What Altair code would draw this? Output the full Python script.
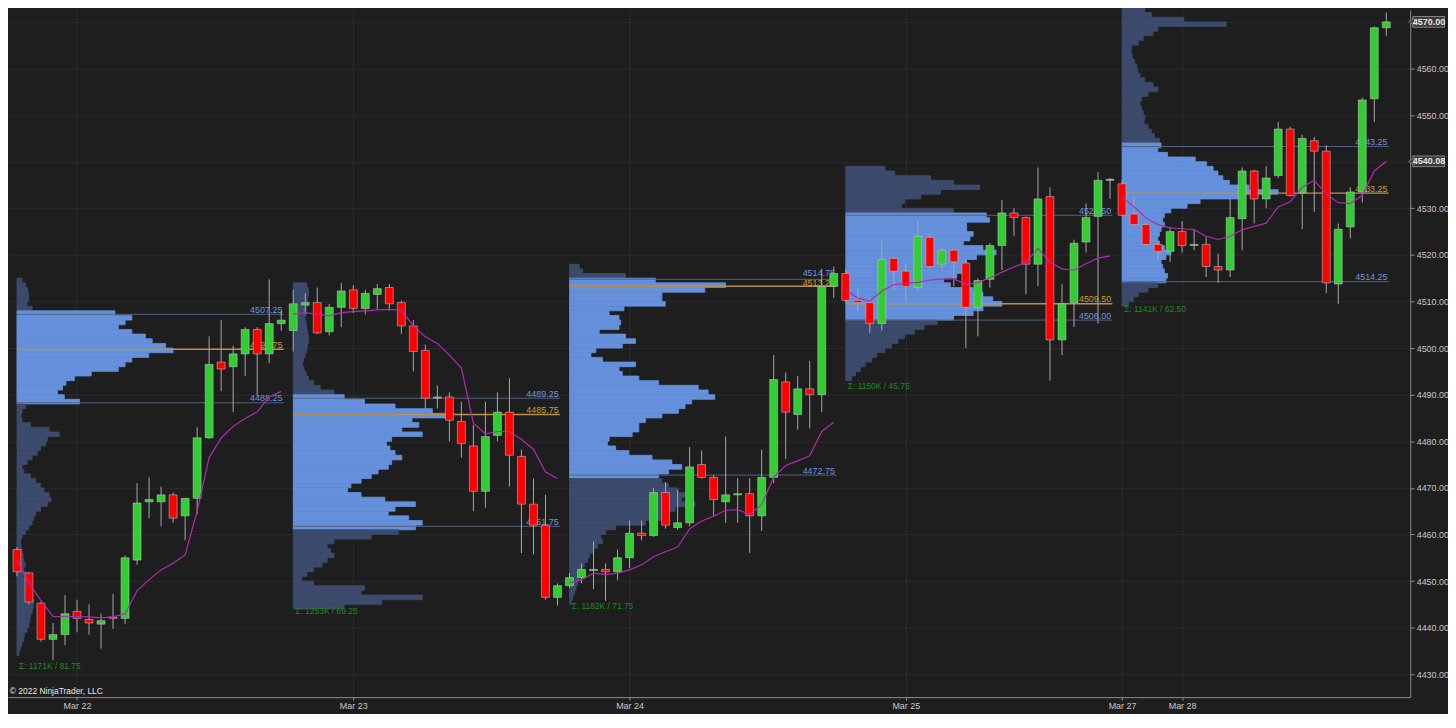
import altair as alt
import pandas as pd

# ---------------- data ----------------
opens = [4456.75, 4451.75, 4445.25, 4437.5, 4438.5, 4443.5, 4441.75, 4440.75, 4442.25, 4442.0,
         4454.5, 4467.0, 4467.0, 4468.5, 4464.0, 4467.75, 4480.75, 4497.0, 4496.0, 4498.75,
         4504.0, 4498.75, 4505.25,
         4503.75, 4509.25, 4509.75, 4503.5, 4508.75, 4512.5, 4508.5, 4511.5, 4513.0, 4509.75,
         4504.75, 4499.5, 4489.25, 4489.5, 4484.25, 4479.0, 4469.25, 4481.25, 4486.25, 4476.75,
         4466.5, 4462.0, 4446.5,
         4449.0, 4450.75, 4452.25, 4452.5, 4452.0, 4455.0, 4460.25, 4459.75, 4469.0, 4461.5,
         4462.5, 4475.0, 4472.25, 4467.0, 4468.5, 4468.75, 4464.0, 4472.25, 4492.75, 4485.75,
         4491.25, 4490.0, 4513.25,
         4516.0, 4510.25, 4509.75, 4505.25, 4519.25, 4516.5, 4513.0, 4523.75, 4518.0, 4521.0,
         4518.25, 4508.75, 4514.75, 4522.0, 4529.0, 4528.0, 4518.0, 4532.5, 4501.75, 4509.75,
         4522.75, 4528.25, 4536.0,
         4535.25, 4528.75, 4526.5, 4522.25, 4520.75, 4525.0, 4522.0, 4522.25, 4517.5, 4516.75,
         4527.75, 4538.0, 4532.0, 4537.0, 4547.0, 4533.25, 4544.5, 4542.25, 4513.75, 4526.0,
         4533.5, 4553.5, 4568.75]
highs = [4457.25, 4452.0, 4445.5, 4441.0, 4447.0, 4446.0, 4445.0, 4443.0, 4447.25, 4455.5,
         4471.0, 4472.25, 4470.25, 4469.0, 4467.75, 4483.0, 4502.5, 4506.0, 4500.5, 4504.5,
         4504.5, 4514.75, 4508.0,
         4512.5, 4511.75, 4513.0, 4509.5, 4514.0, 4513.5, 4512.5, 4513.75, 4513.75, 4510.25,
         4506.0, 4500.75, 4492.0, 4490.5, 4488.5, 4483.5, 4488.5, 4490.5, 4493.5, 4478.25,
         4472.0, 4468.5, 4449.5,
         4451.75, 4453.75, 4458.5, 4453.75, 4456.75, 4463.0, 4463.0, 4470.0, 4471.25, 4469.5,
         4478.75, 4478.0, 4472.75, 4481.0, 4472.0, 4472.0, 4478.25, 4498.5, 4494.75, 4494.0,
         4497.25, 4517.0, 4517.5,
         4517.0, 4512.75, 4510.5, 4523.0, 4519.5, 4518.0, 4527.25, 4524.5, 4521.5, 4521.0,
         4519.0, 4515.0, 4522.5, 4531.75, 4530.0, 4528.25, 4538.75, 4534.5, 4513.75, 4523.25,
         4531.0, 4537.75, 4536.5,
         4536.0, 4532.5, 4527.0, 4522.75, 4526.0, 4527.25, 4525.5, 4523.75, 4520.25, 4532.0,
         4538.75, 4538.25, 4539.0, 4548.5, 4547.5, 4545.75, 4545.25, 4543.5, 4526.75, 4534.5,
         4553.75, 4569.0, 4572.0]
lows = [4451.0, 4445.0, 4437.0, 4433.0, 4436.25, 4439.0, 4438.5, 4435.5, 4439.75, 4440.75,
        4453.5, 4463.5, 4461.75, 4462.5, 4458.75, 4464.25, 4480.5, 4490.75, 4486.25, 4494.0,
        4489.75, 4496.75, 4503.75,
        4499.25, 4507.25, 4503.0, 4502.75, 4504.5, 4507.5, 4507.25, 4508.25, 4508.0, 4503.0,
        4495.0, 4487.0, 4487.0, 4480.0, 4476.5, 4465.0, 4465.75, 4480.0, 4470.25, 4456.0,
        4455.75, 4446.0, 4444.75,
        4448.5, 4449.5, 4448.25, 4445.75, 4450.25, 4452.75, 4458.75, 4459.5, 4461.25, 4461.0,
        4461.75, 4472.0, 4464.0, 4462.5, 4462.5, 4456.0, 4460.75, 4471.0, 4476.25, 4482.5,
        4482.75, 4486.25, 4510.75,
        4509.75, 4508.0, 4503.25, 4503.75, 4512.5, 4510.0, 4512.25, 4517.0, 4517.0, 4513.25,
        4500.0, 4502.5, 4513.0, 4516.75, 4524.0, 4511.5, 4513.25, 4493.0, 4498.5, 4504.5,
        4520.5, 4505.25, 4532.0,
        4528.25, 4526.25, 4522.0, 4519.0, 4518.5, 4520.5, 4521.0, 4515.25, 4514.0, 4515.25,
        4521.0, 4526.75, 4530.0, 4536.5, 4532.5, 4525.5, 4529.25, 4511.75, 4509.5, 4523.5,
        4531.25, 4548.5, 4567.0]
closes = [4452.0, 4445.5, 4437.5, 4438.5, 4443.0, 4442.0, 4441.0, 4441.5, 4442.0, 4455.0,
          4466.75, 4467.5, 4468.5, 4463.5, 4467.75, 4480.75, 4496.5, 4495.5, 4498.75, 4504.0,
          4498.75, 4505.25, 4506.0,
          4509.5, 4509.75, 4503.25, 4508.75, 4512.25, 4508.5, 4511.75, 4512.75, 4509.5, 4504.75,
          4499.25, 4489.25, 4489.5, 4484.5, 4479.5, 4469.25, 4481.0, 4486.25, 4477.0, 4466.5,
          4462.0, 4446.5, 4449.0,
          4450.75, 4452.5, 4452.5, 4452.0, 4455.0, 4460.25, 4459.75, 4469.0, 4462.0, 4462.5,
          4474.5, 4472.25, 4467.5, 4468.5, 4468.75, 4464.0, 4472.25, 4493.25, 4486.25, 4491.25,
          4490.0, 4513.25, 4516.0,
          4510.25, 4509.75, 4505.25, 4519.0, 4516.5, 4513.25, 4524.0, 4517.5, 4521.0, 4518.5,
          4508.75, 4514.5, 4522.0, 4529.0, 4528.0, 4518.0, 4532.0, 4501.75, 4509.5, 4522.5,
          4528.0, 4536.0, 4536.0,
          4528.5, 4526.5, 4522.25, 4520.75, 4525.0, 4522.0, 4522.25, 4517.5, 4516.75, 4528.0,
          4538.0, 4532.0, 4536.5, 4547.0, 4532.75, 4545.0, 4542.25, 4514.0, 4525.5, 4533.5,
          4553.25, 4568.75, 4570.0]
vwap = [4454.5, 4449.6, 4445.8, 4442.4, 4442.4, 4442.4, 4442.3, 4442.1, 4442.3, 4443.0,
        4447.9, 4450.3, 4452.4, 4453.8, 4455.6, 4465.0, 4476.5, 4480.7, 4483.2, 4484.9,
        4486.3, 4489.5, 4490.7,
        4507.3, 4507.6, 4507.3, 4506.9, 4507.6, 4507.8, 4508.0, 4508.2, 4508.3, 4508.1,
        4504.8, 4502.4, 4501.0, 4498.5, 4495.7, 4483.9, 4481.6, 4482.1, 4482.1, 4480.4,
        4478.3, 4473.4, 4472.0,
        4449.6, 4450.3, 4451.7, 4451.4, 4451.7, 4452.4, 4453.5, 4455.2, 4456.3, 4457.3,
        4461.2, 4462.9, 4463.9, 4465.2, 4465.3, 4464.3, 4466.4, 4472.3, 4474.8, 4475.8,
        4476.9, 4482.1, 4484.1,
        4512.5, 4510.7, 4510.1, 4512.2, 4513.6, 4513.9, 4514.1, 4514.6, 4514.8, 4514.9,
        4513.6, 4514.1, 4515.1, 4516.3, 4517.4, 4518.4, 4521.4, 4518.4, 4517.0, 4516.7,
        4518.1, 4519.3, 4519.8,
        4532.4, 4530.3, 4527.9, 4526.5, 4525.8, 4525.6, 4525.4, 4524.0, 4523.3, 4524.0,
        4525.4, 4526.1, 4526.8, 4530.3, 4531.4, 4534.5, 4536.0, 4533.1, 4531.2, 4531.0,
        4532.8, 4538.0, 4540.08]

session_starts = [0, 23, 46, 69, 92]
session_len = 23
poc = [4499.75, 4485.75, 4513.25, 4509.50, 4533.25]
vah = [4507.25, 4489.25, 4514.75, 4528.50, 4543.25]
val = [4488.25, 4461.75, 4472.75, 4506.00, 4514.25]
sigma_volume = ["1171K", "1253K", "1182K", "1150K", "1141K"]
sigma_range = ["81.75", "69.25", "71.75", "45.75", "62.50"]

# volume profile per session: volume per 1-point price bin, from the top bin down
profile_tops = [4514, 4513, 4517, 4538, 4572]
profile_d1 = [15, 25, 32, 35, 35, 30, 45, 290, 340, 320,
              300, 340, 380, 400, 440, 462, 390, 340, 320, 300,
              220, 170, 145, 135, 120, 140, 185, 25, 15, 12,
              15, 40, 95, 125, 90, 85, 70, 60, 45, 30,
              15, 20, 40, 55, 70, 80, 95, 100, 90, 70,
              55, 50, 45, 35, 25, 15, 10, 12, 15, 18,
              20, 25, 20, 28, 30, 35, 30, 38, 42, 50,
              48, 45, 40, 38, 35, 30, 22, 20, 15, 10, 6]
profile_d2 = [40, 45, 45, 42, 45, 40, 38, 35, 38, 40,
              42, 45, 45, 42, 40, 35, 30, 28, 32, 38,
              45, 60, 80, 120, 150, 210, 300, 410, 460, 350,
              370, 320, 380, 290, 275, 285, 300, 320, 290, 280,
              250, 230, 200, 170, 160, 200, 270, 360, 300, 280,
              340, 380, 360, 310, 230, 120, 100, 110, 120, 100,
              85, 60, 40, 25, 60, 210, 200, 380, 260, 150]
profile_d3 = [30, 40, 170, 260, 473, 410, 280, 280, 290, 165,
              120, 150, 155, 150, 90, 170, 200, 160, 80, 65,
              100, 200, 150, 160, 210, 270, 390, 420, 440, 370,
              350, 330, 280, 230, 210, 210, 190, 120, 115, 140,
              180, 250, 310, 340, 300, 270, 280, 300, 330, 350,
              340, 380, 320, 300, 290, 230, 140, 110, 95, 100,
              85, 70, 60, 55, 45, 40, 35, 30, 25, 20,
              15, 10, 5]
profile_d4 = [120, 150, 260, 330, 410, 290, 230, 180, 170, 330,
              430, 440, 370, 370, 390, 380, 360, 420, 460, 400,
              370, 360, 370, 340, 300, 320, 390, 420, 450, 478,
              420, 390, 330, 280, 240, 210, 180, 160, 140, 120,
              95, 80, 60, 45, 30, 18]
profile_d5 = [70, 90, 190, 320, 110, 95, 65, 50, 30, 28,
              32, 38, 45, 48, 55, 70, 95, 110, 80, 60,
              55, 60, 65, 70, 68, 80, 90, 100, 115, 120,
              110, 140, 225, 260, 280, 295, 310, 330, 390, 480,
              370, 240, 200, 150, 130, 125, 130, 120, 115, 110,
              115, 130, 150, 135, 120, 125, 130, 140, 135, 110,
              80, 50, 35, 20]
profiles = [profile_d1, profile_d2, profile_d3, profile_d4, profile_d5]

date_labels = ["Mar 22", "Mar 23", "Mar 24", "Mar 25", "Mar 27", "Mar 28"]
date_pos = [5, 28, 51, 74, 92, 97]
price_ticks = list(range(4430, 4571, 10))
badge_prices = [4570.00, 4540.08]

# ---------------- tables ----------------
UP, DOWN, FLAT = "#32cd32", "#ff0000", "#d8d8d8"
candle_rows = []
for i, (o, h, l, c) in enumerate(zip(opens, highs, lows, closes)):
    fill = UP if c > o else (DOWN if c < o else FLAT)
    lo, hi = min(o, c), max(o, c)
    if hi - lo < 0.2:
        hi = lo + 0.2
    candle_rows.append(dict(i=i, xl=i - 0.33, xr=i + 0.33, low=l, high=h,
                            blo=lo, bhi=hi, fill=fill, session=i // session_len))
candles = pd.DataFrame(candle_rows)

vw = pd.DataFrame({"i": list(range(len(vwap))), "vwap": vwap,
                   "session": [k // session_len for k in range(len(vwap))]})

POC_WIDTH = 13.0  # profile width of the POC bin, in bar units
prof_rows = []
for s, (top, vols) in enumerate(zip(profile_tops, profiles)):
    start = session_starts[s]
    m = max(vols)
    for k, v in enumerate(vols):
        p = top - k
        inside = (p < vah[s]) and (p + 1 > val[s])
        prof_rows.append(dict(x0=start, x1=start + v / m * POC_WIDTH, plo=p, phi=p + 1,
                              fill="#6590db" if inside else "#3c4b6b"))
prof = pd.DataFrame(prof_rows)

lvl_rows = []
for s in range(5):
    start = session_starts[s]
    close_pair = (vah[s] - poc[s]) < 2.5   # labels that would collide get nudged apart
    for kind, price, nudge in (("va", vah[s], 0.45 if close_pair else 0.0),
                               ("va", val[s], 0.0),
                               ("poc", poc[s], -0.3 if close_pair else 0.0)):
        lvl_rows.append(dict(x0=start, x1=start + session_len - 0.8, xlab=start + session_len - 0.9,
                             price=price, ylab=price + nudge, kind=kind, label=f"{price:.2f}",
                             color="#d39b2a" if kind == "poc" else "#7094dc"))
lvl = pd.DataFrame(lvl_rows)

sig = pd.DataFrame([dict(x=session_starts[s], y=min(lows[session_starts[s]:session_starts[s] + session_len]),
                         text=f"Σ: {sigma_volume[s]} / {sigma_range[s]}") for s in range(5)])

badges = pd.DataFrame({"price": badge_prices, "lo": [p - 1.15 for p in badge_prices],
                       "hi": [p + 1.15 for p in badge_prices],
                       "label": [f"{p:.2f}" for p in badge_prices],
                       "xa": [116.2] * 2, "xb": [118.85] * 2, "xt": [117.55] * 2, "xp": [116.1] * 2})

copy_df = pd.DataFrame({"x": [-0.6], "y": [4426.3], "text": ["© 2022 NinjaTrader, LLC"]})

# ---------------- scales / axes ----------------
FONT = "Liberation Sans"
xs = alt.Scale(domain=[-0.745, 115.99], nice=False, zero=False)
ys = alt.Scale(domain=[4425.09, 4572.56], nice=False, zero=False)
label_map = ", ".join(f"'{p}': '{l}'" for p, l in zip(date_pos, date_labels))
xaxis = alt.Axis(values=date_pos, labelExpr="{" + label_map + "}[datum.value]", title=None,
                 grid=True, gridColor="#2b2b2b", domainColor="#8c8c8c", tickColor="#8c8c8c",
                 tickSize=3, labelColor="#c8c8c8", labelFontSize=9, labelPadding=1,
                 labelFont=FONT, labelOverlap=False, labelFlush=False)
# the price badges replace the axis labels at their levels
hidden = " || ".join(f"datum.value == {round(p)}" for p in badge_prices)
yaxis = alt.Axis(orient="right", values=price_ticks, format=".2f", title=None, grid=True,
                 labelExpr=f"({hidden}) ? '' : format(datum.value, '.2f')",
                 gridColor="#2b2b2b", domainColor="#8c8c8c", tickColor="#8c8c8c", tickSize=4,
                 labelColor="#c8c8c8", labelFontSize=9, labelPadding=2, labelFont=FONT,
                 labelOverlap=False, labelFlush=False)


def X(f):
    return alt.X(f, type="quantitative", scale=xs, axis=xaxis)


def Y(f):
    return alt.Y(f, type="quantitative", scale=ys, axis=yaxis)


profile_layer = alt.Chart(prof).mark_rect(strokeWidth=0.8).encode(
    x=X("x0"), x2="x1", y=Y("plo"), y2="phi",
    color=alt.Color("fill:N", scale=None), stroke=alt.Stroke("fill:N", scale=None))

va_lines = alt.Chart(lvl[lvl.kind == "va"]).mark_rule(color="#55657f", strokeWidth=1).encode(
    x=X("x0"), x2="x1", y=Y("price"))
poc_lines = alt.Chart(lvl[lvl.kind == "poc"]).mark_rule(color="#b8904f", strokeWidth=1.5).encode(
    x=X("x0"), x2="x1", y=Y("price"))
lvl_text = alt.Chart(lvl).mark_text(align="right", baseline="alphabetic", dy=-1.5,
                                    fontSize=9, font=FONT).encode(
    x=X("xlab"), y=Y("ylab"), text="label:N", color=alt.Color("color:N", scale=None))
sig_text = alt.Chart(sig).mark_text(align="left", baseline="top", dx=2, dy=1.5,
                                    fontSize=8.5, font=FONT, color="#1d8a1d").encode(
    x=X("x"), y=Y("y"), text="text:N")

wicks = alt.Chart(candles).mark_rule(color="#a8a8a8", strokeWidth=1).encode(
    x=X("i"), y=Y("low"), y2="high")
bodies = alt.Chart(candles).mark_rect(stroke="#c4c4c4", strokeWidth=0.7, strokeOpacity=0.8).encode(
    x=X("xl"), x2="xr", y=Y("blo"), y2="bhi", color=alt.Color("fill:N", scale=None))
vwap_line = alt.Chart(vw).mark_line(color="#b02cb0", strokeWidth=1.2).encode(
    x=X("i"), y=Y("vwap"), detail="session:N")

copy_text = alt.Chart(copy_df).mark_text(align="left", baseline="middle", fontSize=8.5,
                                         font=FONT, color="#e6e6e6").encode(
    x=X("x"), y=Y("y"), text="text:N")

badge_rect = alt.Chart(badges).mark_rect(fill="#3a3a3a", stroke="#9a9a9a", strokeWidth=0.8).encode(
    x=X("xa"), x2="xb", y=Y("lo"), y2="hi")
badge_tip = alt.Chart(badges).mark_point(shape="triangle-left", filled=True, size=45,
                                         color="#3a3a3a", stroke="#9a9a9a", strokeWidth=0.6,
                                         opacity=1).encode(x=X("xp"), y=Y("price"))
badge_text = alt.Chart(badges).mark_text(align="center", baseline="middle", fontSize=9,
                                         font=FONT, fontWeight="bold", color="#e8e8e8").encode(
    x=X("xt"), y=Y("price"), text="label:N")

chart = alt.layer(
    profile_layer, va_lines, poc_lines, lvl_text, sig_text,
    wicks, bodies, vwap_line, copy_text, badge_rect, badge_tip, badge_text
).properties(
    width=1410, height=691, background="#1e1e1e",
    autosize=alt.AutoSizeParams(type="none"),
    padding={"left": 0, "top": 0, "right": 38, "bottom": 15},
).configure_view(stroke=None)

chart.save("out.html", embed_options={"renderer": "svg", "actions": False})
